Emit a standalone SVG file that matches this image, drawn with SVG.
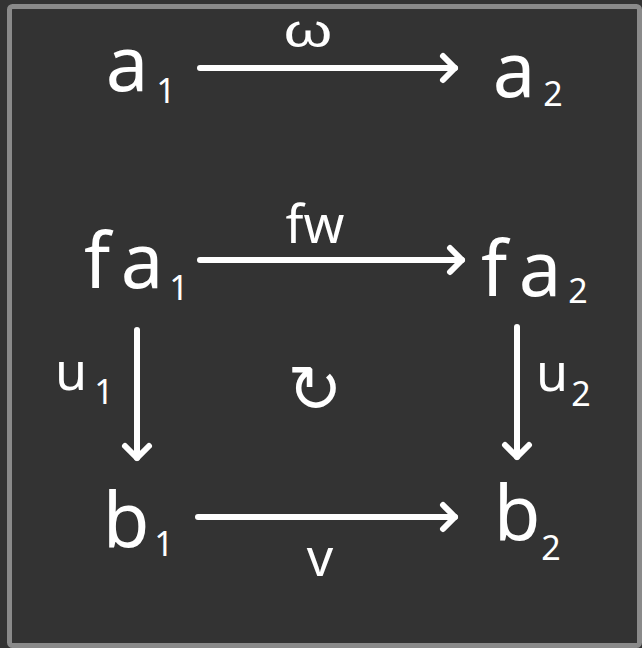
<svg xmlns="http://www.w3.org/2000/svg" width="642" height="648" viewBox="0 0 642 648">
  <defs>
    <style>
      .t { font-family: "Noto Sans", "DejaVu Sans", sans-serif; fill: #ffffff; text-anchor: middle; }
      .m { font-size: 76px; }
      .s { font-size: 34px; }
      .l { font-size: 52px; }
      .c { stroke: #ffffff; stroke-width: 6; stroke-linecap: round; stroke-linejoin: round; fill: none; }
    </style>
    <marker id="ah" markerUnits="userSpaceOnUse" viewBox="-16 -16 20 32" refX="0" refY="0" markerWidth="20" markerHeight="32" orient="auto" overflow="visible">
      <path d="M-12,-12 L0,0 L-12,12" fill="none" stroke="#ffffff" stroke-width="6" stroke-linecap="round" stroke-linejoin="round"/>
    </marker>
  </defs>
  <rect x="0" y="0" width="642" height="648" fill="#333333"/>
  <rect x="9.5" y="6.5" width="630" height="639" rx="3" fill="#333333" stroke="#8a8a8a" stroke-width="5"/>

  <g id="connectors">
    <path class="c" d="M200,68 L455,68" marker-end="url(#ah)"/>
    <path class="c" d="M200,260 L462,260" marker-end="url(#ah)"/>
    <path class="c" d="M198,517 L455,517" marker-end="url(#ah)"/>
    <path class="c" d="M137,330 L137,458" marker-end="url(#ah)"/>
    <path class="c" d="M517,327 L517,457" marker-end="url(#ah)"/>
    <text class="t" style="font-family: 'Liberation Sans', sans-serif; font-size: 46px;" x="308" y="47" transform="translate(308 47) scale(1.35 1) translate(-308 -47)">ω</text>
    <text class="t l" x="315" y="243">fw</text>
    <text class="t l" x="320" y="576">v</text>
    <text class="t l"><tspan x="71" y="390">u</tspan><tspan class="s" x="104" y="404">1</tspan></text>
    <text class="t l"><tspan x="552" y="391">u</tspan><tspan class="s" x="581" y="406">2</tspan></text>
  </g>

  <g id="a1"><text class="t m"><tspan x="127" y="91">a</tspan><tspan class="s" x="166" y="103">1</tspan></text></g>
  <g id="a2"><text class="t m"><tspan x="514" y="97">a</tspan><tspan class="s" x="553" y="106">2</tspan></text></g>
  <g id="fa1"><text class="t m"><tspan x="97" y="288">f</tspan><tspan x="142" y="288">a</tspan><tspan class="s" x="179" y="300">1</tspan></text></g>
  <g id="fa2"><text class="t m"><tspan x="494" y="296">f</tspan><tspan x="540" y="296">a</tspan><tspan class="s" x="578" y="303">2</tspan></text></g>
  <g id="b1"><text class="t m"><tspan x="126" y="547">b</tspan><tspan class="s" x="164" y="556">1</tspan></text></g>
  <g id="b2"><text class="t m"><tspan x="517" y="540">b</tspan><tspan class="s" x="551" y="560">2</tspan></text></g>
  <g id="commute"><text class="t" style="font-family: 'DejaVu Sans', sans-serif; font-size: 66px;" x="315" y="412">↻</text></g>
</svg>
